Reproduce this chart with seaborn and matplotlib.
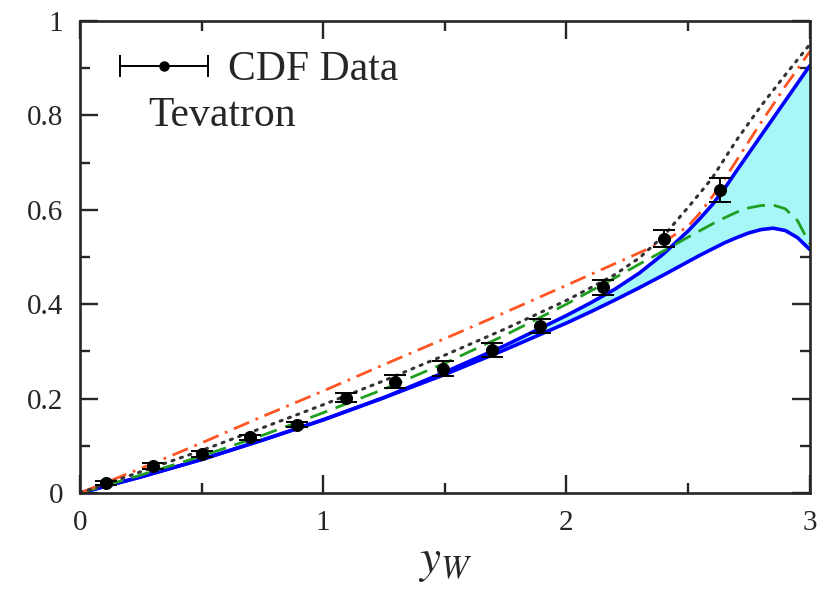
import numpy as np
import matplotlib
matplotlib.use("Agg")
import matplotlib.pyplot as plt
import seaborn as sns
from matplotlib.container import ErrorbarContainer
from matplotlib.legend_handler import HandlerErrorbar

# theory curves sampled along y_W
x_grid = [0, 0.25, 0.5, 0.75, 1.0, 1.25, 1.5, 1.75, 2.0, 2.1, 2.2, 2.3, 2.4, 2.5, 2.55, 2.6, 2.65,
          2.7, 2.75, 2.8, 2.85, 2.9, 2.95, 3.0]
blue_low = [0, 0.034, 0.071, 0.112, 0.155, 0.202, 0.251, 0.304, 0.360, 0.384, 0.409, 0.435, 0.462,
            0.490, 0.504, 0.517, 0.530, 0.541, 0.551, 0.558, 0.561, 0.556, 0.541, 0.516]
blue_high = [0, 0.034, 0.071, 0.112, 0.155, 0.202, 0.256, 0.313, 0.376, 0.403, 0.432, 0.466, 0.507,
             0.555, 0.582, 0.611, 0.645, 0.683, 0.720, 0.757, 0.794, 0.831, 0.868, 0.905]
green = [0, 0.038, 0.078, 0.122, 0.170, 0.220, 0.275, 0.335, 0.400, 0.428, 0.456, 0.485, 0.513,
         0.542, 0.556, 0.570, 0.583, 0.595, 0.604, 0.609, 0.610, 0.602, 0.577, 0.528]
orange = [0, 0.052, 0.106, 0.162, 0.216, 0.272, 0.327, 0.383, 0.440, 0.463, 0.486, 0.509, 0.532,
          0.565, 0.594, 0.628, 0.665, 0.705, 0.745, 0.785, 0.823, 0.862, 0.898, 0.935]
black = [0, 0.045, 0.090, 0.138, 0.187, 0.238, 0.292, 0.348, 0.408, 0.435, 0.463, 0.498, 0.545,
         0.605, 0.636, 0.668, 0.708, 0.748, 0.784, 0.820, 0.853, 0.886, 0.918, 0.950]

# CDF data
data_x = [0.107, 0.300, 0.501, 0.699, 0.892, 1.093, 1.295, 1.492, 1.693, 1.891, 2.150, 2.400, 2.630]
data_y = [0.021, 0.057, 0.082, 0.118, 0.145, 0.202, 0.236, 0.263, 0.303, 0.354, 0.436, 0.539, 0.642]
data_err = [0.005, 0.006, 0.006, 0.005, 0.005, 0.009, 0.014, 0.016, 0.015, 0.015, 0.016, 0.018, 0.026]

xticks = [0, 1, 2, 3]
yticks = [0, 0.2, 0.4, 0.6, 0.8, 1.0]
ytick_labels = ['0', '0.2', '0.4', '0.6', '0.8', '1']

sns.set_style("ticks")
plt.rcParams['font.family'] = ['Liberation Serif', 'DejaVu Serif']
plt.rcParams['mathtext.fontset'] = 'stix'

fig, ax = plt.subplots(figsize=(8.33, 5.99), dpi=100)
fig.subplots_adjust(left=0.096, right=0.972, bottom=0.177, top=0.965)

ax.fill_between(x_grid, blue_low, blue_high, color='#a8f7f7', lw=0)
sns.lineplot(x=x_grid, y=blue_low, color='#0000ff', lw=2.6, ax=ax)
sns.lineplot(x=x_grid, y=blue_high, color='#0000ff', lw=2.6, ax=ax)
sns.lineplot(x=x_grid, y=green, color='#1f9e1f', lw=2.0, linestyle=(0, (6.5, 3.2)), ax=ax)
sns.lineplot(x=x_grid, y=orange, color='#ff5522', lw=2.0, linestyle=(0, (6, 2.5, 1, 2.5)), ax=ax)
sns.lineplot(x=x_grid, y=black, color='#333333', lw=2.2, linestyle=(0, (0.7, 2.2)),
             dash_capstyle='round', ax=ax)

ax.errorbar(data_x, data_y, yerr=data_err, fmt='none', ecolor='k', elinewidth=1.4,
            capsize=8, capthick=1.4, zorder=5)
sns.scatterplot(x=data_x, y=data_y, color='k', s=75, edgecolor='k', zorder=6, ax=ax)

# legend entry with horizontal error bar
h = ax.errorbar([np.nan], [np.nan], xerr=[0.1], fmt='o', color='k', ms=6.5,
                elinewidth=1.4, capsize=8, capthick=1.4)
ax.legend(handles=[h], labels=['CDF Data'], loc='center left', bbox_to_anchor=(0.055, 0.896),
          frameon=False, fontsize=30, handlelength=2.1, handletextpad=0.5,
          borderpad=0, borderaxespad=0,
          handler_map={ErrorbarContainer: HandlerErrorbar(xerr_size=1.05)})
ax.text(0.093, 0.80, 'Tevatron', transform=ax.transAxes, fontsize=30, va='center', ha='left')

ax.set_xlim(0, 3)
ax.set_ylim(0, 1)
ax.set_xticks(xticks)
ax.set_xticklabels([str(t) for t in xticks])
ax.set_xticks([0.5, 1.5, 2.5], minor=True)
ax.set_yticks(yticks)
ax.set_yticklabels(ytick_labels)
ax.set_yticks([0.1, 0.3, 0.5, 0.7, 0.9], minor=True)
ax.tick_params(which='both', direction='in', top=True, right=True, labelsize=21, width=1.7)
ax.tick_params(which='major', length=13)
ax.tick_params(which='minor', length=7)
ax.tick_params(axis='x', pad=12)
ax.tick_params(axis='y', pad=12)
for s in ax.spines.values():
    s.set_linewidth(1.9)

ax.set_xlabel('$y_W$', fontsize=34, labelpad=4)

fig.savefig('out.png', dpi=100)
